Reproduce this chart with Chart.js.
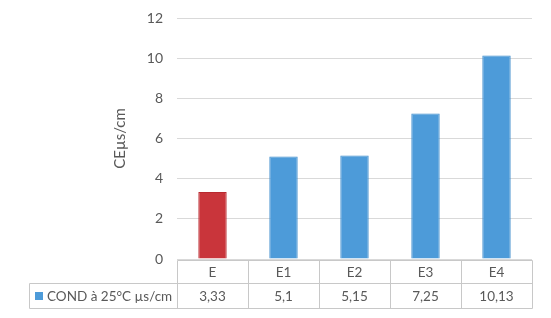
<!DOCTYPE html>
<html>
<head>
<meta charset="utf-8">
<script src="https://cdn.jsdelivr.net/npm/chart.js@4/dist/chart.umd.min.js"></script>
<style>
html,body{margin:0;padding:0;background:#fff;}
#c{display:block;}
</style>
</head>
<body>
<canvas id="c" width="551" height="318"></canvas>
<script>
const categories = ['E', 'E1', 'E2', 'E3', 'E4'];
const values = [3.33, 5.1, 5.15, 7.25, 10.13];
const seriesName = 'COND à 25°C µs/cm';
const yTitle = 'CEµs/cm';
const yTicks = [0, 2, 4, 6, 8, 10, 12];

const barColors = ['#c9353b', '#4d9bd9', '#4d9bd9', '#4d9bd9', '#4d9bd9'];
const barBorders = ['#b82a30', '#3e8ccc', '#3e8ccc', '#3e8ccc', '#3e8ccc'];
const FONT = 'Lato, "Open Sans", sans-serif';
const TEXT = '#595959';
const LINE = '#c8c8c8';

function fmt(v){ return String(v).replace('.', ','); }

const tablePlugin = {
  id: 'dataTable',
  afterDraw(chart){
    const ctx = chart.ctx;
    const xs = chart.scales.x;
    const n = categories.length;
    const w = (xs.right - xs.left) / n;
    const top = 260.5;
    const mid = 283.5;
    const bot = 308.5;
    const legLeft = 29.5;
    const right = Math.round(xs.right) + 0.5;
    ctx.save();
    ctx.strokeStyle = LINE;
    ctx.lineWidth = 1;
    ctx.beginPath();
    ctx.moveTo(Math.round(xs.left) + 0.5, top); ctx.lineTo(right, top);
    ctx.moveTo(legLeft, mid); ctx.lineTo(right, mid);
    ctx.moveTo(legLeft, bot); ctx.lineTo(right, bot);
    ctx.moveTo(legLeft, mid); ctx.lineTo(legLeft, bot);
    for (let i = 0; i <= n; i++) {
      const xp = Math.round(xs.getPixelForValue(i) - w / 2) + 0.5;
      ctx.moveTo(xp, top); ctx.lineTo(xp, bot);
    }
    ctx.stroke();
    ctx.fillStyle = TEXT;
    ctx.font = '13.5px ' + FONT;
    ctx.textAlign = 'center';
    ctx.textBaseline = 'middle';
    for (let i = 0; i < n; i++) {
      const cx = xs.getPixelForValue(i);
      ctx.fillText(categories[i], cx, (top + mid) / 2 + 1);
      ctx.fillText(fmt(values[i]), cx, (mid + bot) / 2 + 1);
    }
    ctx.fillStyle = barColors[1];
    ctx.fillRect(35, Math.round((mid + bot) / 2) - 4, 8, 8);
    ctx.fillStyle = TEXT;
    ctx.textAlign = 'left';
    ctx.fillText(seriesName, 47, (mid + bot) / 2 + 1);
    ctx.restore();
  }
};

new Chart(document.getElementById('c'), {
  type: 'bar',
  data: {
    labels: categories,
    datasets: [{
      label: seriesName,
      data: values,
      backgroundColor: barColors,
      borderColor: barBorders,
      borderWidth: 1,
      categoryPercentage: 1,
      barPercentage: 0.4
    }]
  },
  options: {
    responsive: false,
    animation: false,
    devicePixelRatio: 1,
    layout: { padding: { left: 111, right: 19, top: 18, bottom: 59 } },
    plugins: { legend: { display: false }, tooltip: { enabled: false } },
    scales: {
      x: { display: false },
      y: {
        min: 0, max: 12,
        afterBuildTicks(s){ s.ticks = yTicks.map(v => ({ value: v })); },
        afterFit(s){ s.width = 66; s.paddingTop = 0; s.paddingBottom = 0; },
        border: { display: false },
        grid: { color: '#d9d9d9', lineWidth: 1, drawTicks: false },
        ticks: { padding: 14, color: TEXT, font: { family: FONT, size: 14 } },
        title: { display: true, text: yTitle, color: TEXT, font: { family: FONT, size: 15 }, padding: { top: 0, bottom: 0 } }
      }
    }
  },
  plugins: [tablePlugin]
});
</script>
</body>
</html>
